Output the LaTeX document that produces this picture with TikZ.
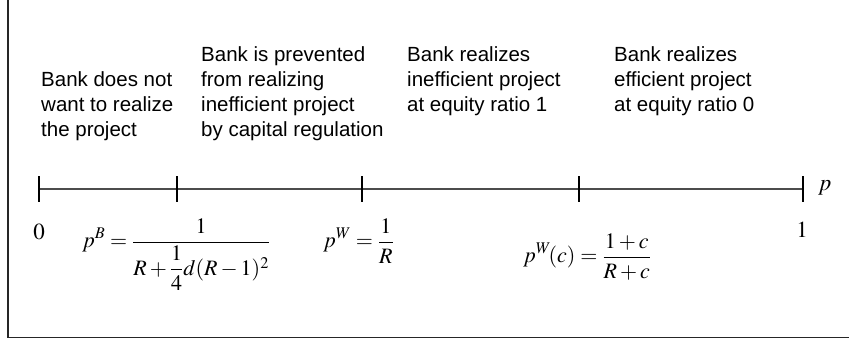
\documentclass[tikz,border=0pt]{standalone}
\usepackage[no-math]{fontspec}
\usepackage{mathptmx}
\newfontfamily\blockfont{Liberation Sans}
\newcommand{\linesblock}[1]{\vtop{\baselineskip=25pt\lineskiplimit=0pt\halign{##\hfil\cr#1\crcr}}}
\begin{document}
\begin{tikzpicture}[x=1pt,y=-1pt,
  blocktext/.style={font=\blockfont\fontsize{20.5}{25}\selectfont, anchor=base west, inner sep=0pt},
  mathlbl/.style={font=\fontsize{22}{26}\selectfont, inner sep=0pt},
  endlbl/.style={font=\fontsize{23}{27}\selectfont, inner sep=0pt},
  tickline/.style={line width=1.3pt, black},
  axisline/.style={line width=2pt, black!70},
  frameline/.style={line width=1.6pt, black!85}]
\useasboundingbox (0,0) rectangle (849,339);
% frame
\coordinate (ftop) at (8,0);
\coordinate (fcorner) at (8,337.5);
\coordinate (fright) at (849,337.5);
\draw[frameline] (ftop) -- (fcorner) -- (fright);
% axis
\coordinate (t0) at (39,189);
\coordinate (t1) at (177,189);
\coordinate (t2) at (362,189);
\coordinate (t3) at (579,189);
\coordinate (t4) at (803,189);
\draw[axisline] (t0) -- (t4);
\foreach \t in {t0,t1,t2,t3,t4}
  \draw[tickline] ([yshift=-13pt]\t) -- ([yshift=13pt]\t);
% region texts
\node[blocktext] (b1) at (41,87) {\linesblock{Bank does not\cr want to realize\cr the project}};
\node[blocktext] (b2) at (201,62) {\linesblock{Bank is prevented\cr from realizing\cr inefficient project\cr by capital regulation}};
\node[blocktext] (b3) at (407,62) {\linesblock{Bank realizes\cr inefficient project\cr at equity ratio 1}};
\node[blocktext] (b4) at (614,62) {\linesblock{Bank realizes\cr efficient project\cr at equity ratio 0}};
% labels
\node[endlbl, anchor=base] (l0) at (39,240) {$0$};
\node[endlbl, anchor=base] (l1) at (802,238) {$1$};
\node[endlbl, anchor=base west] (lp) at (818,191) {$p$};
\node[mathlbl, anchor=base west] (fB) at (82,248) {$\displaystyle p^{B}=\frac{1}{R+{\displaystyle\frac{1}{4}}d(R-1)^{2}}$};
\node[mathlbl, anchor=base west] (fW) at (323,248) {$\displaystyle p^{W}=\frac{1}{R}$};
\node[mathlbl, anchor=base west] (fWc) at (523,263) {$\displaystyle p^{W}\!(c)=\frac{1+c}{R+c}$};
\end{tikzpicture}
\end{document}
